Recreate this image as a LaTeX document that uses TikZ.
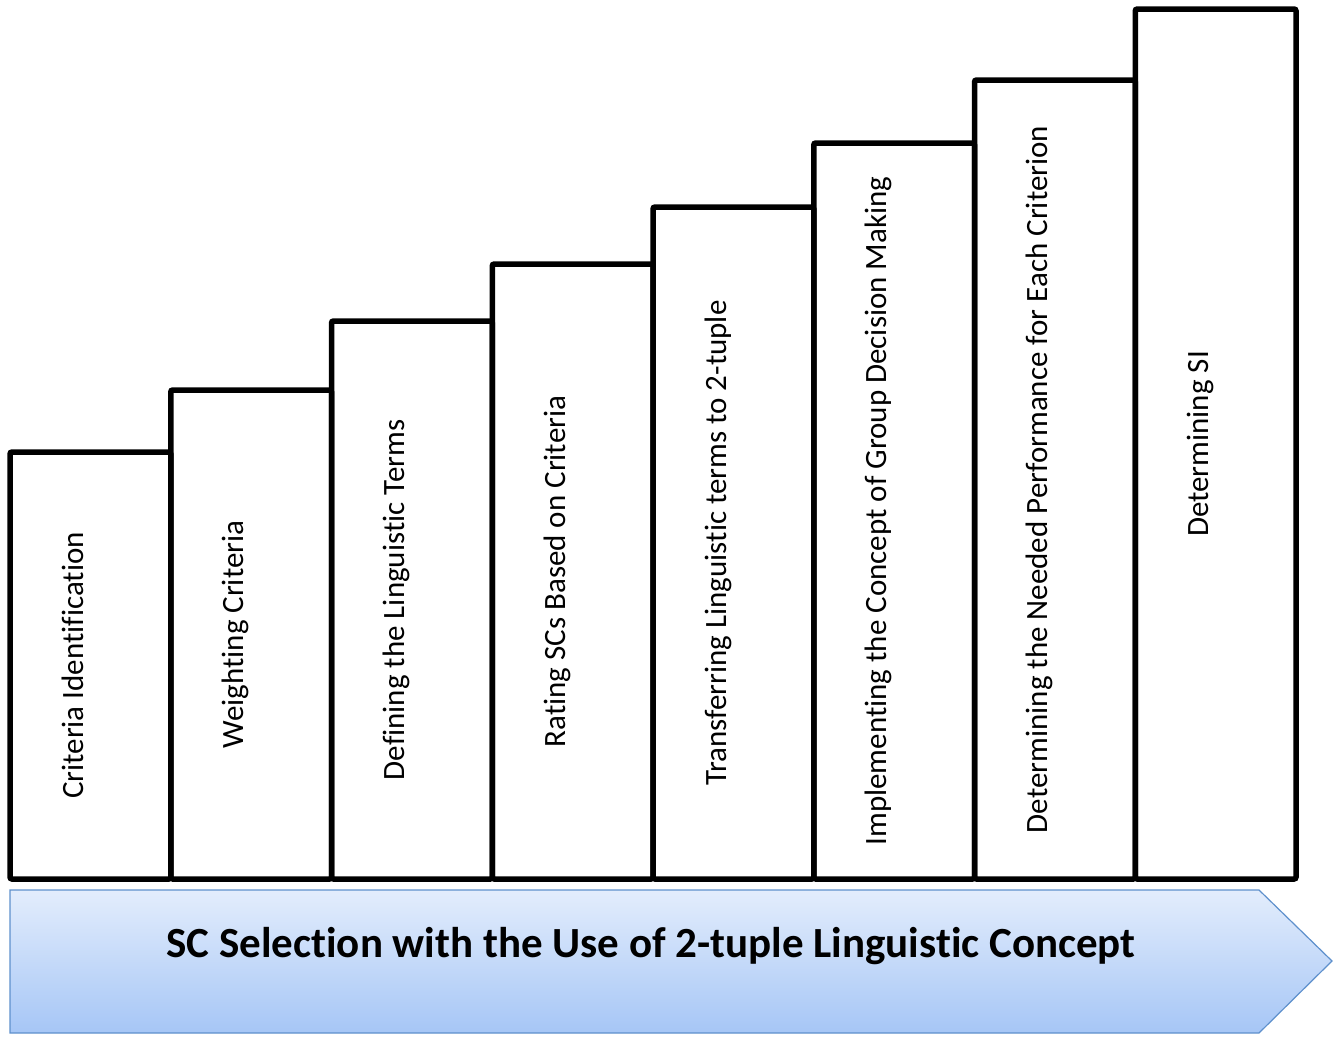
\documentclass[tikz,border=0pt]{standalone}
\usepackage{fontspec}
\setmainfont[RawFeature=-liga]{Carlito}
\usetikzlibrary{calc}
\definecolor{arrowtop}{HTML}{E3EDFC}
\definecolor{arrowbot}{HTML}{A6C6F6}
\definecolor{arrowline}{HTML}{5E90CC}

\begin{document}
\begin{tikzpicture}[x=1pt,y=-1pt,
    barbox/.style={line width=5.5pt, rounded corners=2pt},
    barlabel/.style={rotate=90, anchor=base, inner sep=0pt, font=\fontsize{31}{36}\selectfont}]
    \useasboundingbox (0,0) rectangle (1338,1036);
    % steps
    \foreach \i/\t/\lbl in {0/452/Criteria Identification, 1/390/Weighting Criteria,
        2/321/Defining the Linguistic Terms, 3/264/Rating SCs Based on Criteria,
        4/207/Transferring Linguistic terms to 2-tuple,
        5/143/Implementing the Concept of Group Decision Making,
        6/80/Determining the Needed Performance for Each Criterion, 7/9/Determining SI}{
        \draw[barbox] (10+160.75*\i,879) rectangle (170.75+160.75*\i,\t);
        \node[barlabel] (lbl\i) at (83+160.75*\i,{(879+\t)/2}) {\lbl};
    }
    % arrow
    \shade[top color=arrowtop, bottom color=arrowbot, draw=arrowline, line width=1.2pt]
        (10,890) -- (1259,890) -- (1332,961) -- (1259,1033) -- (10,1033) -- cycle;
    \node[font=\bfseries\fontsize{43}{48}\selectfont] (title) at (651,946) {SC Selection with the Use of 2-tuple Linguistic Concept};
\end{tikzpicture}
\end{document}
